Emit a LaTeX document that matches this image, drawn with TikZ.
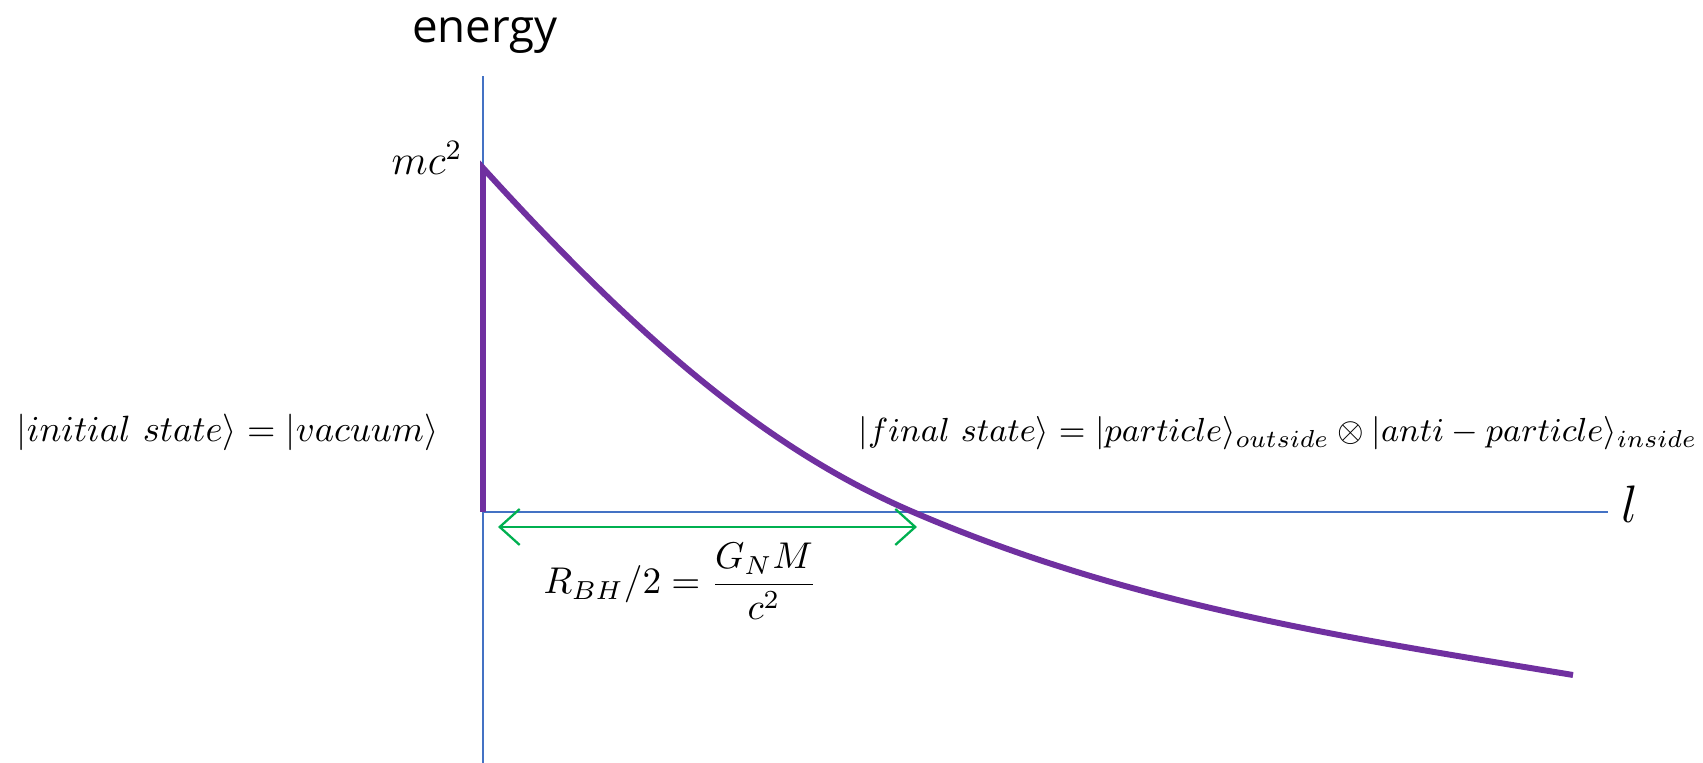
\documentclass[tikz,border=0pt]{standalone}
\usepackage{fix-cm}
\usepackage{amsmath}
\usepackage{fontspec}
\usepackage{tikz}
\usetikzlibrary{arrows.meta,positioning}
\newfontfamily\axisfont{Open Sans}
\DeclareMathSizes{9.5}{9.5}{7}{5}
\definecolor{AxisBlue}{RGB}{68,114,196}
\definecolor{CurvePurple}{RGB}{112,48,160}
\definecolor{SpanGreen}{RGB}{0,176,80}
\tikzset{
  axisline/.style={draw=AxisBlue, line width=0.6pt},
  energycurve/.style={draw=CurvePurple, line width=1.7pt},
  spanarrow/.style={{Straight Barb[length=2mm,width=3.6mm]}-{Straight Barb[length=2mm,width=3.6mm]},
                SpanGreen, line width=0.65pt},
  statelabel/.style={inner sep=0pt, font=\fontsize{10.4}{12}\selectfont},
  finallabel/.style={inner sep=0pt, font=\fontsize{9.5}{12}\selectfont},
}

\begin{document}
\begin{tikzpicture}
  \useasboundingbox (-4.83,-2.51) rectangle (12.20,5.12);

  % --- axes --------------------------------------------------------------------
  \coordinate (origin) at (0,0);
  \coordinate (ytop)   at (0,4.36);
  \coordinate (ybot)   at (0,-2.51);
  \coordinate (xend)   at (11.25,0);
  \draw[axisline, line width=0.85pt] (ybot) -- (ytop);
  \draw[axisline] (origin) -- (xend);

  \node[inner sep=0pt, anchor=base, font=\axisfont\fontsize{13}{15}\selectfont] (energy) at (0.02,4.69) {energy};
  \node[inner sep=0pt, anchor=base, font=\fontsize{15}{18}\selectfont] (lvar) at (11.47,-0.11) {$l$};

  % --- energy curve --------------------------------------------------------------
  \coordinate (mctop) at (0,3.44);
  \coordinate (cross) at (4.30,0);
  \coordinate (tail)  at (10.90,-1.63);
  \draw[energycurve] (origin) -- (mctop)
    .. controls (1.6,1.68) and (2.87,0.615) .. (cross)
    .. controls (6.5,-0.946) and (8.7,-1.267) .. (tail);
  \node[inner sep=0pt, anchor=base east, font=\fontsize{12}{14}\selectfont] (mc) at (-0.20,3.37) {$mc^2$};

  % --- states ----------------------------------------------------------------------
  \node[statelabel, anchor=base east] (initial) at (-0.44,0.70)
    {$|initial\ state\rangle = |vacuum\rangle$};
  \node[finallabel, anchor=base west] (final) at (3.75,0.70)
    {$|final\ state\rangle = |particle\rangle_{outside} \otimes |anti-particle\rangle_{inside}$};

  % --- horizon span ------------------------------------------------------------------
  \coordinate (spanl) at (0.15,-0.15);
  \coordinate (spanr) at (4.34,-0.15);
  \draw[spanarrow] (spanl) -- (spanr);
  \node[inner sep=0pt, anchor=base west, font=\fontsize{10.6}{12}\selectfont] (radius) at (0.60,-0.82)
    {$R_{BH}/2 = \dfrac{G_N M}{c^2}$};

\end{tikzpicture}
\end{document}
